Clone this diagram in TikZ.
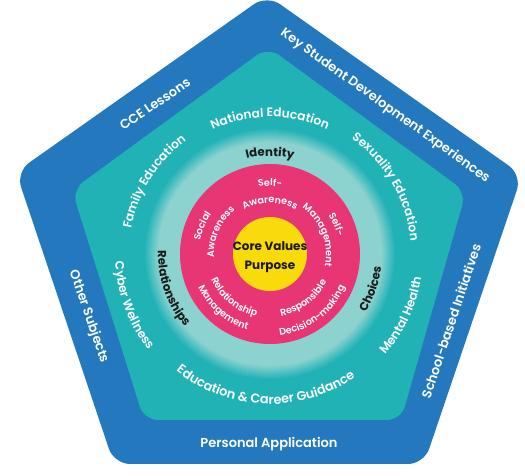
\documentclass[tikz,border=0pt]{standalone}
\usepackage{fontspec}
\IfFontExistsTF{Poppins SemiBold}{\setmainfont{Poppins SemiBold}[BoldFont=Poppins Bold]}{\setmainfont{Poppins}}
\usetikzlibrary{calc,decorations.text}
\definecolor{cblue}{HTML}{2478BE}
\definecolor{cteal}{HTML}{21B2B6}
\definecolor{cltl}{HTML}{8CD3D0}
\definecolor{cpink}{HTML}{E83573}
\definecolor{cyel}{HTML}{F9DA0B}
\definecolor{cdark}{HTML}{1A1A1A}
\newcommand\fMid{\color{white}\fontsize{12.2}{12}\selectfont}
\newcommand\fMidL{\color{white}\fontsize{12.8}{12}\selectfont}
\newcommand\fBlack{\color{cdark}\bfseries\fontsize{11.8}{12}\selectfont}
\newcommand\fPink{\color{white}\fontsize{9.6}{10}\selectfont}
\newcommand\arcTxt[5]{\path[decorate,decoration={text along path,text align=center,text={|#1|#2}}] ($(C)+(#3:#5)$) arc[start angle=#3,end angle=#4,radius=#5];}
\tikzset{outerlabel/.style={text=white,font=\fontsize{13}{12}\selectfont,inner sep=0pt}}
\begin{document}
\begin{tikzpicture}[x=1pt,y=1pt]
\useasboundingbox (0,0) rectangle (525,476);
\coordinate (C) at (270,222);
% pentagons
\fill[cblue,rounded corners=16pt] (267,481) -- (522,301) -- (424,12) -- (114,12) -- (16,304) -- cycle;
\fill[cteal,rounded corners=14pt] (268,429) -- (466,284) -- (401,56) -- (144,56) -- (72,286) -- cycle;
% glow ring
\foreach \i in {0,...,14}{\pgfmathtruncatemacro\pc{100*\i/14}\fill[cltl!\pc!cteal] (C) circle[radius=126-\i];}
\fill[cltl] (C) circle[radius=112];
\fill[cpink] (C) circle[radius=90];
\fill[cyel] (C) circle[radius=37];
% outer labels
\node[outerlabel,rotate=34.4] (cce) at (155,372) {CCE Lessons};
\node[outerlabel,rotate=-35.7] (ksde) at (385,370) {Key Student Development Experiences};
\node[outerlabel,rotate=-71] (oth) at (88.5,159.5) {Other Subjects};
\node[outerlabel,rotate=71.5] (sbi) at (451,155) {School-based Initiatives};
\node[outerlabel] (pa) at (269,32) {Personal Application};
% teal ring labels
\arcTxt{\fMid}{National Education}{160}{20}{137}
\arcTxt{\fMid}{Family Education}{198}{98}{141}
\arcTxt{\fMid}{Sexuality Education}{80}{-20}{141}
\arcTxt{\fMid}{Cyber Wellness}{155.6}{245.6}{155}
\arcTxt{\fMidL}{Education {\&} Career Guidance}{183}{353}{150}
\arcTxt{\fMid}{Mental Health}{-70}{20}{153}
% light ring labels
\arcTxt{\fBlack}{Identity}{130}{50}{98}
\arcTxt{\fBlack}{Relationships}{150}{249}{112}
\arcTxt{\fBlack}{Choices}{-60}{22}{112}
% pink ring labels
\arcTxt{\fPink}{Self-}{130}{50}{68}
\arcTxt{\fPink}{Awareness}{150}{30}{51}
\arcTxt{\fPink}{Self-}{64}{-16}{70}
\arcTxt{\fPink}{Management}{81}{-39}{56}
\arcTxt{\fPink}{Social}{200}{115}{71}
\arcTxt{\fPink}{Awareness}{216}{96}{56}
\arcTxt{\fPink}{Relationship}{170}{291}{64}
\arcTxt{\fPink}{Management}{170}{288}{79}
\arcTxt{\fPink}{Responsible}{-113}{7}{63}
\arcTxt{\fPink}{Decision-making}{-113}{6}{82}
% core
\node[font=\bfseries\fontsize{12}{19}\selectfont,text=cdark,align=center,inner sep=0pt] (core) at ($(C)+(0,-3)$) {Core Values\\Purpose};
\end{tikzpicture}
\end{document}
